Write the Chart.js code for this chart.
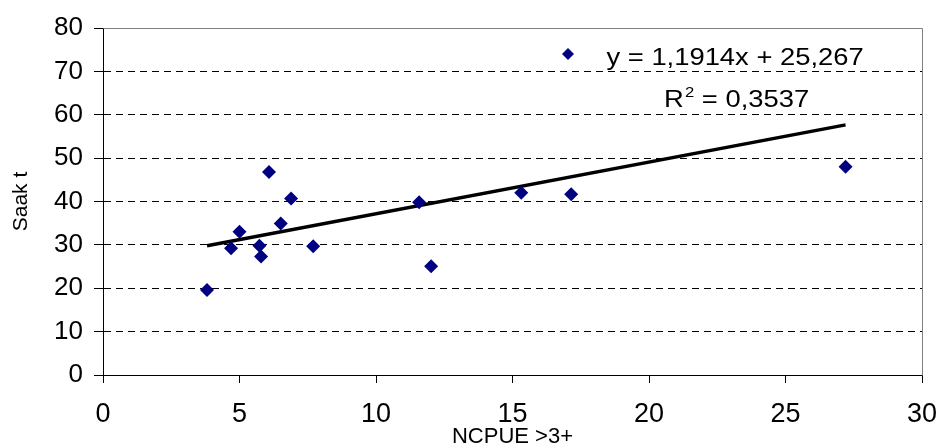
<!DOCTYPE html>
<html>
<head>
<meta charset="utf-8">
<script src="https://cdn.jsdelivr.net/npm/chart.js@4/dist/chart.umd.min.js"></script>
<style>
  html, body { margin: 0; padding: 0; background: #fff; }
  #wrap { width: 938px; height: 448px; }
</style>
</head>
<body>
<div id="wrap"><canvas id="chart" width="938" height="448"></canvas></div>
<script>
// NCPUE >3+ vs. saak (t), with linear trend line
const ncpue = [3.81, 4.69, 5.00, 5.73, 5.79, 6.08, 6.51, 6.89, 7.70, 11.58, 12.02, 15.32, 17.15, 27.20];
const saak  = [19.6, 29.2, 33.0, 29.8, 27.3, 46.8, 34.9, 40.7, 29.7, 39.8, 25.1, 42.0, 41.7, 48.0];

// trend line coefficients as printed on the chart
const SLOPE = 1.1914;
const INTERCEPT = 25.267;
const R2 = 0.3537;

const X_TITLE = 'NCPUE >3+';
const Y_TITLE = 'Saak t';

const FONT = '"Liberation Sans", Arial, sans-serif';
const NAVY = '#000080';

const points = ncpue.map((x, i) => ({ x: x, y: saak[i] }));
const xMin = Math.min(...ncpue);
const xMax = Math.max(...ncpue);
const trend = [xMin, xMax].map(x => ({ x: x, y: SLOPE * x + INTERCEPT }));

const comma = v => String(v).replace('.', ',');

// grey frame on top and right of the plot area
const frame = {
    id: 'frame',
    afterDraw(chart) {
        const { ctx, chartArea: a } = chart;
        ctx.save();
        ctx.strokeStyle = '#808080';
        ctx.lineWidth = 1;
        ctx.beginPath();
        ctx.moveTo(Math.round(a.left) + 0.5, Math.round(a.top) + 0.5);
        ctx.lineTo(Math.round(a.right) + 0.5, Math.round(a.top) + 0.5);
        ctx.lineTo(Math.round(a.right) + 0.5, Math.round(a.bottom) + 0.5);
        ctx.stroke();
        ctx.restore();
    }
};

// legend marker + trend equation box
const equation = {
    id: 'equation',
    afterDraw(chart) {
        const ctx = chart.ctx;
        ctx.save();
        // marker
        const mx = 568, my = 54, r = 6;
        ctx.fillStyle = NAVY;
        ctx.beginPath();
        ctx.moveTo(mx, my - r);
        ctx.lineTo(mx + r, my);
        ctx.lineTo(mx, my + r);
        ctx.lineTo(mx - r, my);
        ctx.closePath();
        ctx.fill();

        ctx.fillStyle = '#000';
        ctx.textBaseline = 'alphabetic';
        ctx.textAlign = 'left';
        const sx = 1.19;

        // y = ax + b
        ctx.save();
        ctx.translate(606.5, 65);
        ctx.scale(sx, 1);
        ctx.font = '23px ' + FONT;
        ctx.fillText('y = ' + comma(SLOPE) + 'x + ' + comma(INTERCEPT), 0, 0);
        ctx.restore();

        // R² = ...
        ctx.save();
        ctx.translate(664, 107);
        ctx.scale(sx, 1);
        ctx.font = '23px ' + FONT;
        ctx.fillText('R', 0, 0);
        let w = ctx.measureText('R').width;
        ctx.font = '14px ' + FONT;
        ctx.fillText('2', w + 1, -10.5);
        w += ctx.measureText('2').width + 1;
        ctx.font = '23px ' + FONT;
        ctx.fillText(' = ' + comma(R2), w, 0);
        ctx.restore();

        ctx.restore();
    }
};

new Chart(document.getElementById('chart'), {
    type: 'scatter',
    data: {
        datasets: [
            {
                label: 'Saak',
                data: points,
                pointStyle: 'rectRot',
                pointRadius: 7,
                pointBorderWidth: 0,
                backgroundColor: NAVY,
                borderColor: NAVY,
                order: 1,
            },
            {
                label: 'Trend',
                type: 'line',
                data: trend,
                borderColor: '#000',
                borderWidth: 3.4,
                pointRadius: 0,
                fill: false,
                order: 2,
            },
        ],
    },
    options: {
        responsive: false,
        animation: false,
        layout: { padding: { top: 28, right: 16, left: 0, bottom: 0 } },
        plugins: {
            legend: { display: false },
            tooltip: { enabled: false },
        },
        scales: {
            x: {
                type: 'linear',
                min: 0,
                max: 30,
                afterFit: s => {
                    s.height = 73;
                    s.paddingLeft = 0;
                    s.paddingRight = 0;
                },
                ticks: {
                    stepSize: 5,
                    color: '#000',
                    padding: 15,
                    font: { family: FONT, size: 27 },
                    maxRotation: 0,
                },
                grid: {
                    drawOnChartArea: false,
                    drawTicks: true,
                    tickLength: 8,
                    tickColor: '#000',
                },
                border: { display: true, color: '#000', width: 1 },
                title: {
                    display: true,
                    text: X_TITLE,
                    color: '#000',
                    font: { family: FONT, size: 22 },
                    padding: { top: 0, bottom: -2 },
                },
            },
            y: {
                type: 'linear',
                min: 0,
                max: 80,
                afterFit: s => { s.width = 103; },
                ticks: {
                    stepSize: 10,
                    color: '#000',
                    padding: 11,
                    font: { family: FONT, size: 26 },
                },
                grid: {
                    color: c => (c.tick && c.tick.value > 0 && c.tick.value < 80) ? '#000' : 'rgba(0,0,0,0)',
                    tickColor: '#000',
                    tickLength: 9,
                    tickBorderDash: [],
                    lineWidth: 1,
                },
                border: { display: true, color: '#000', width: 1, dash: [7, 5] },
                title: {
                    display: true,
                    text: Y_TITLE,
                    color: '#000',
                    font: { family: FONT, size: 21 },
                    padding: { top: 9, bottom: 0 },
                },
            },
        },
    },
    plugins: [frame, equation],
});
</script>
</body>
</html>
